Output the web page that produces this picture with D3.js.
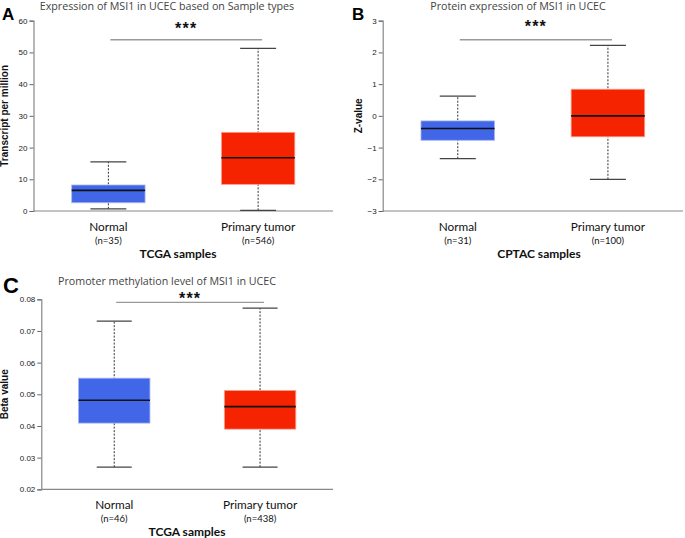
<!DOCTYPE html>
<html><head><meta charset="utf-8">
<script src="https://cdn.jsdelivr.net/npm/d3@7"></script>
<style>body{margin:0;background:#fff}svg{display:block}</style>
</head><body>
<script>
// ---- data ----
const categories = ["Normal", "Primary tumor"];
// [min, q1, median, q3, max]
const aNormal = [0.7, 2.6, 6.5, 8.2, 15.5];
const aTumor  = [0.2, 8.4, 16.8, 24.8, 51.3];
const aCounts = ["(n=35)", "(n=546)"];
const aTicks  = [0, 10, 20, 30, 40, 50, 60];
const bNormal = [-1.35, -0.77, -0.4, -0.16, 0.62];
const bTumor  = [-2.0, -0.66, 0.0, 0.84, 2.22];
const bCounts = ["(n=31)", "(n=100)"];
const bTicks  = [-3, -2, -1, 0, 1, 2, 3];
const cNormal = [0.027, 0.0409, 0.0481, 0.0551, 0.0731];
const cTumor  = [0.027, 0.0390, 0.0461, 0.0512, 0.0772];
const cCounts = ["(n=46)", "(n=438)"];
const cTicks  = [0.02, 0.03, 0.04, 0.05, 0.06, 0.07, 0.08];
const sigValues = [54, 2.4, 0.079];

const colors = ["#4166E8", "#F62300"];
const svg = d3.select("body").append("svg").attr("width", 685).attr("height", 538);

function panel(o) {
  const g = svg.append("g");
  const y = d3.scaleLinear().domain(o.domain).range([o.y1, o.y0]);
  const x = d3.scaleBand().domain(categories).range([o.x0, o.x1]);
  const bw = x.bandwidth();
  const boxW = bw * 0.49, capW = bw * 0.24;
  // axes
  const ya = g.append("g").attr("transform", `translate(${o.x0},0)`)
    .call(d3.axisLeft(y).tickValues(o.ticks).tickSize(4).tickPadding(2).tickFormat(o.fmt));
  ya.select(".domain").attr("stroke", "#888").attr("stroke-width", 1.2);
  ya.selectAll(".tick line").attr("stroke", "#666");
  ya.selectAll(".tick text").attr("font-family", "Liberation Sans, Arial").attr("font-size", 8).attr("fill", "#222");
  g.append("line").attr("x1", o.x0).attr("x2", o.x1).attr("y1", o.y1).attr("y2", o.y1)
    .attr("stroke", "#888").attr("stroke-width", 1.2);
  // boxes
  o.data.forEach((d, i) => {
    const cx = x(categories[i]) + bw / 2;
    const bg = g.append("g");
    bg.append("line").attr("x1", cx).attr("x2", cx).attr("y1", y(d[0])).attr("y2", y(d[4]))
      .attr("stroke", "#333").attr("stroke-width", 1).attr("stroke-dasharray", "2,1.5");
    [d[0], d[4]].forEach(v => bg.append("line").attr("x1", cx - capW / 2).attr("x2", cx + capW / 2)
      .attr("y1", y(v)).attr("y2", y(v)).attr("stroke", "#444").attr("stroke-width", 1.3));
    bg.append("rect").attr("x", cx - boxW / 2).attr("width", boxW)
      .attr("y", y(d[3])).attr("height", y(d[1]) - y(d[3]))
      .attr("fill", colors[i]).attr("stroke", i ? "#f9a090" : "#a9b8f2").attr("stroke-width", 0.8);
    bg.append("line").attr("x1", cx - boxW / 2).attr("x2", cx + boxW / 2).attr("y1", y(d[2])).attr("y2", y(d[2]))
      .attr("stroke", "#111").attr("stroke-width", 1.6);
    g.append("text").attr("x", cx).attr("y", o.y1 + 20).attr("text-anchor", "middle")
      .attr("font-family", "Lato, Open Sans").attr("font-size", 11.8).attr("fill", "#111").text(categories[i]);
    g.append("text").attr("x", cx).attr("y", o.y1 + 33).attr("text-anchor", "middle")
      .attr("font-family", "Lato, Open Sans").attr("font-size", 9.5).attr("fill", "#111").text(o.counts[i]);
  });
  // significance
  const sx0 = x(categories[0]) + bw / 2 + 2, sx1 = x(categories[1]) + bw / 2 + 4;
  g.append("line").attr("x1", sx0).attr("x2", sx1).attr("y1", y(o.sig)).attr("y2", y(o.sig))
    .attr("stroke", "#999").attr("stroke-width", 1.3);
  g.append("text").attr("x", (sx0 + sx1) / 2).attr("y", o.starY).attr("text-anchor", "middle")
    .attr("font-family", "Liberation Sans, Arial").attr("font-weight", "bold").attr("font-size", 16)
    .attr("letter-spacing", 1.2).attr("fill", "#111").text("***");
  // titles
  g.append("text").attr("x", o.titleX).attr("y", o.titleY).attr("text-anchor", "middle")
    .attr("font-family", "Open Sans, DejaVu Sans").attr("font-size", 10.7).attr("fill", "#444").text(o.title);
  g.append("text").attr("x", o.xlabX).attr("y", o.y1 + 47).attr("text-anchor", "middle")
    .attr("font-family", "Lato, Open Sans").attr("font-weight", "bold").attr("font-size", 12).attr("fill", "#111").text(o.xlab);
  g.append("text").attr("transform", `translate(${o.ylabX},${(o.y0 + o.y1) / 2}) rotate(-90)`)
    .attr("text-anchor", "middle").attr("font-family", "Liberation Sans, Arial").attr("font-weight", "bold")
    .attr("font-size", 10).attr("fill", "#111").text(o.ylab);
  g.append("text").attr("x", o.letterX).attr("y", o.letterY)
    .attr("font-family", "Liberation Sans, Arial").attr("font-weight", "bold").attr("font-size", o.letterSize).attr("fill", "#000").text(o.letter);
}

panel({ data: [aNormal, aTumor], counts: aCounts, ticks: aTicks, domain: [0, 60], fmt: d3.format("d"),
  x0: 33.5, x1: 333, y0: 20.7, y1: 211, sig: sigValues[0], starY: 34,
  title: "Expression of MSI1 in UCEC based on Sample types", titleX: 167, titleY: 10,
  xlab: "TCGA samples", xlabX: 178, ylab: "Transcript per million", ylabX: 8,
  letter: "A", letterX: 2, letterY: 20, letterSize: 17 });
panel({ data: [bNormal, bTumor], counts: bCounts, ticks: bTicks, domain: [-3, 3], fmt: d3.format("d"),
  x0: 382.7, x1: 683, y0: 20.7, y1: 211, sig: sigValues[1], starY: 32,
  title: "Protein expression of MSI1 in UCEC", titleX: 518, titleY: 10,
  xlab: "CPTAC samples", xlabX: 539, ylab: "Z-value", ylabX: 362,
  letter: "B", letterX: 352, letterY: 20, letterSize: 17 });
panel({ data: [cNormal, cTumor], counts: cCounts, ticks: cTicks, domain: [0.02, 0.08], fmt: d3.format(".2f"),
  x0: 41.3, x1: 333, y0: 299.3, y1: 489.3, sig: sigValues[2], starY: 304,
  title: "Promoter methylation level of MSI1 in UCEC", titleX: 167, titleY: 285,
  xlab: "TCGA samples", xlabX: 187, ylab: "Beta value", ylabX: 8,
  letter: "C", letterX: 3, letterY: 293, letterSize: 22 });
</script>
</body></html>
